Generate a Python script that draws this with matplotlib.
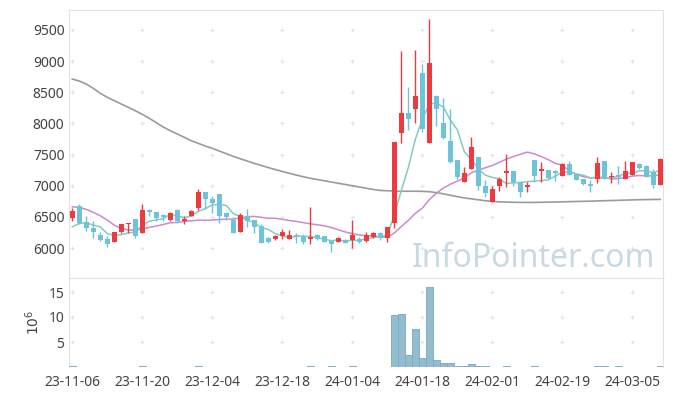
import numpy as np
import pandas as pd
import matplotlib
matplotlib.use("Agg")
import matplotlib.pyplot as plt

# daily candles, 2023-11-06 .. 2024-03-11 (85 trading days)
opens = [6477, 6674, 6412, 6321, 6209, 6144, 6101, 6252, 6380, 6465,
         6236, 6610, 6573, 6530, 6445, 6610, 6438, 6518, 6647, 6894,
         6787, 6867, 6567, 6449, 6262, 6518, 6449, 6358, 6160, 6144,
         6198, 6150, 6209, 6198, 6150, 6204, 6188, 6112, 6101, 6134,
         6124, 6150, 6117, 6182, 6241, 6156, 6396, 7851, 8172, 8231,
         8814, 7690, 8443, 8012, 7720, 7417, 7056, 7270, 7465, 6990,
         6733, 7003, 7208, 7240, 7057, 6974, 7417, 7242, 7256, 7230,
         7160, 7348, 7190, 7105, 7032, 7102, 7405, 7134, 7178, 7110,
         7171, 7348, 7316, 7219, 7010]
highs = [6647, 6701, 6509, 6433, 6262, 6197, 6260, 6390, 6406, 6465,
         6706, 6626, 6583, 6540, 6573, 6621, 6518, 6610, 6942, 6894,
         6839, 6867, 6567, 6502, 6557, 6621, 6455, 6380, 6180, 6210,
         6300, 6289, 6236, 6225, 6653, 6220, 6200, 6120, 6177, 6150,
         6449, 6177, 6260, 6257, 6257, 6337, 7706, 9165, 8584, 9180,
         8956, 9672, 8456, 8402, 8225, 7417, 7305, 7785, 7465, 7096,
         6990, 7135, 7509, 7240, 7060, 7064, 7417, 7380, 7256, 7256,
         7360, 7401, 7200, 7115, 7096, 7460, 7405, 7225, 7320, 7395,
         7380, 7360, 7330, 7270, 7440]
lows = [6433, 6380, 6273, 6156, 6117, 6021, 6095, 6245, 6246, 6156,
        6236, 6518, 6433, 6433, 6438, 6406, 6385, 6510, 6610, 6626,
        6567, 6396, 6455, 6246, 6262, 6342, 6246, 6085, 6080, 6128,
        6140, 6150, 6080, 6064, 6069, 6128, 6090, 5931, 6090, 6075,
        6005, 6085, 6101, 6160, 6128, 6101, 6326, 7694, 7894, 8001,
        7870, 7690, 7960, 7748, 7359, 7107, 7056, 7270, 6931, 6823,
        6733, 6920, 6980, 6995, 6814, 6900, 7064, 7064, 7110, 7069,
        7160, 7165, 7096, 7005, 6904, 7037, 7107, 7050, 7022, 7107,
        7171, 7270, 7140, 6963, 7010]
closes = [6599, 6396, 6316, 6262, 6124, 6064, 6252, 6380, 6396, 6197,
          6610, 6573, 6487, 6493, 6565, 6438, 6465, 6594, 6894, 6782,
          6727, 6518, 6493, 6246, 6535, 6433, 6342, 6085, 6100, 6193,
          6257, 6209, 6193, 6101, 6177, 6150, 6101, 6064, 6166, 6085,
          6209, 6091, 6214, 6241, 6156, 6337, 7706, 8172, 8071, 8445,
          7910, 8975, 8231, 7766, 7385, 7141, 7208, 7620, 7000, 6888,
          6947, 7105, 7238, 7064, 6904, 7016, 7155, 7272, 7123, 7204,
          7350, 7165, 7096, 7030, 6990, 7364, 7112, 7155, 7140, 7236,
          7380, 7289, 7144, 7005, 7428]
# volume in millions of shares
volume = [0.25, 0.03, 0.03, 0.03, 0.03, 0.03, 0.03, 0.03, 0.03, 0.03,
          0.2, 0.03, 0.03, 0.03, 0.03, 0.03, 0.03, 0.03, 0.2, 0.03,
          0.03, 0.03, 0.03, 0.03, 0.03, 0.03, 0.03, 0.03, 0.03, 0.03,
          0.03, 0.03, 0.03, 0.03, 0.2, 0.03, 0.03, 0.2, 0.03, 0.03,
          0.2, 0.03, 0.03, 0.03, 0.03, 0.03, 10.5, 10.7, 2.4, 7.7,
          1.8, 16.1, 1.4, 0.8, 0.8, 0.2, 0.2, 0.6, 0.2, 0.2,
          0.03, 0.03, 0.2, 0.03, 0.03, 0.03, 0.2, 0.03, 0.03, 0.03,
          0.03, 0.03, 0.03, 0.03, 0.03, 0.2, 0.2, 0.03, 0.2, 0.03,
          0.03, 0.03, 0.03, 0.03, 0.2]

# moving averages before the window fills
ma5_head = [6342, 6396, 6406, 6369]
ma20_head = [6663, 6652, 6621, 6573, 6518, 6449, 6369, 6316, 6289, 6289,
             6305, 6332, 6353, 6380, 6406, 6412, 6428, 6438, 6449]
# long moving average (grey line)
ma_long = [8712, 8680, 8632, 8563, 8483, 8419, 8364, 8311, 8258, 8204,
           8146, 8082, 8012, 7942, 7883, 7830, 7777, 7722, 7680, 7637,
           7600, 7557, 7514, 7472, 7433, 7396, 7359, 7325, 7292, 7260,
           7230, 7200, 7172, 7145, 7120, 7100, 7080, 7060, 7040, 7020,
           7000, 6980, 6960, 6940, 6925, 6920, 6915, 6912, 6912, 6912,
           6910, 6905, 6890, 6870, 6848, 6825, 6805, 6790, 6775, 6760,
           6750, 6742, 6738, 6735, 6733, 6733, 6733, 6735, 6737, 6740,
           6742, 6745, 6748, 6750, 6753, 6756, 6760, 6763, 6766, 6770,
           6773, 6776, 6778, 6780, 6781]

tick_labels = ["23-11-06", "23-11-20", "23-12-04", "23-12-18", "24-01-04",
               "24-01-18", "24-02-01", "24-02-19", "24-03-05"]
price_ticks = [6000, 6500, 7000, 7500, 8000, 8500, 9000, 9500]
vol_ticks = [5, 10, 15]

UP = "#ee3a3e"
DOWN = "#6cc3da"
TXT = "#444444"
GRIDC = "#e3e3e3"

plt.rcParams["font.family"] = ["Noto Sans", "DejaVu Sans"]

n = len(closes)
x = np.arange(n)
o = np.array(opens, float)
h = np.array(highs, float)
l = np.array(lows, float)
c = np.array(closes, float)

s = pd.Series(c)
ma5 = s.rolling(5).mean().to_numpy()
ma5[:4] = ma5_head
ma20 = s.rolling(20).mean().to_numpy()
ma20[:19] = ma20_head

tick_pos = np.arange(0, 10 * len(tick_labels), 10)

fig = plt.figure(figsize=(6.73, 3.96), dpi=100)
ax = fig.add_axes([69.3 / 673, 1 - 278 / 396, 594 / 673, 268 / 396])
axv = fig.add_axes([69.3 / 673, 1 - 367 / 396, 594 / 673, 89 / 396], sharex=ax)

for a in (ax, axv):
    for sp in a.spines.values():
        sp.set_color("#e2e2e2")
        sp.set_linewidth(0.8)
    a.tick_params(length=0, colors=TXT, labelsize=10)
axv.spines["bottom"].set_visible(False)

# plus-shaped grid marks
gx, gy = np.meshgrid(tick_pos, price_ticks)
ax.scatter(gx.ravel(), gy.ravel(), marker="+", s=10, color=GRIDC, lw=0.8, zorder=0)
gx, gy = np.meshgrid(tick_pos, vol_ticks)
axv.scatter(gx.ravel(), gy.ravel(), marker="+", s=10, color=GRIDC, lw=0.8, zorder=0)

ax.text(0.987, 0.04, "InfoPointer.com", transform=ax.transAxes, ha="right",
        va="baseline", fontsize=23, color="#c9d9e4", zorder=0)

# moving averages
ax.plot(x, ma_long, color="#9a9a9a", lw=1.2, zorder=2)
ax.plot(x, ma20, color="#cc8acb", lw=1.1, zorder=2)
ax.plot(x, ma5, color="#86cbbd", lw=1.1, zorder=2)

# candles
up = c >= o
colors = np.where(up, UP, DOWN)
ax.vlines(x, l, h, colors=colors, lw=1.0, zorder=3)
body_lo = np.minimum(o, c)
body_h = np.maximum(np.abs(c - o), 12)
ax.bar(x, body_h, bottom=body_lo, width=0.72, color=colors, lw=0, zorder=4)

ax.set_ylim(5520, 9820)
ax.set_yticks(price_ticks)
ax.set_xlim(-0.43, 84.43)
plt.setp(ax.get_xticklabels(), visible=False)

axv.bar(x, volume, width=0.92, color="#94bccf", edgecolor="#7aa8c0", lw=0.6, zorder=3)
axv.set_ylim(0, 17.8)
axv.set_yticks(vol_ticks)
axv.set_xticks(tick_pos)
axv.set_xticklabels(tick_labels)
axv.tick_params(axis="x", pad=6)
axv.set_ylabel("$10^6$", color=TXT, fontsize=10, labelpad=4)

fig.savefig("out.png", dpi=100)
